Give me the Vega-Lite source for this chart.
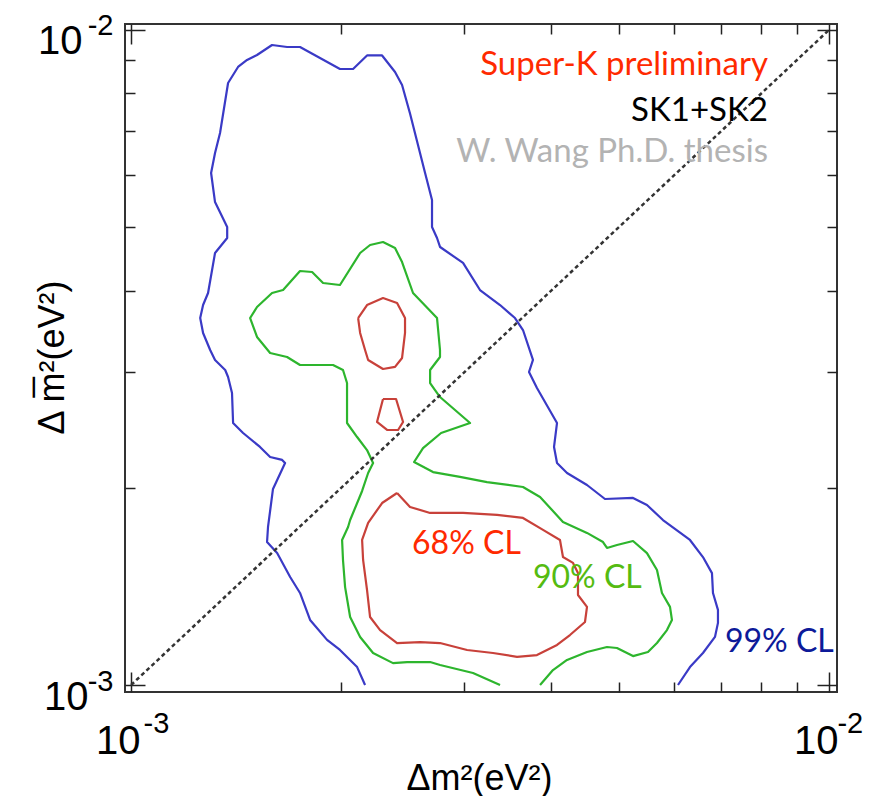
{
  "$schema": "https://vega.github.io/schema/vega-lite/v6.json",
  "width": 712,
  "height": 668,
  "autosize": {"type": "none"},
  "padding": {"left": 125, "top": 24, "right": 34, "bottom": 104},
  "background": "white",
  "config": {
    "view": {"stroke": "#333333", "strokeWidth": 2},
    "axis": {"grid": false, "domain": false, "labelFont": "Liberation Sans", "titleFont": "Liberation Sans", "labelColor": "#000000", "titleColor": "#000000", "labelFlush": false, "labelOverlap": false, "labelBound": false}
  },
  "datasets": {
    "contours": [
      {"c": 99, "p": "a", "i": 1, "x": 0.002164, "y": 0.001000},
      {"c": 99, "p": "a", "i": 2, "x": 0.002108, "y": 0.001065},
      {"c": 99, "p": "a", "i": 3, "x": 0.001992, "y": 0.001131},
      {"c": 99, "p": "a", "i": 4, "x": 0.001909, "y": 0.001172},
      {"c": 99, "p": "a", "i": 5, "x": 0.001805, "y": 0.001257},
      {"c": 99, "p": "a", "i": 6, "x": 0.001746, "y": 0.001382},
      {"c": 99, "p": "a", "i": 7, "x": 0.001690, "y": 0.001462},
      {"c": 99, "p": "a", "i": 8, "x": 0.001619, "y": 0.001590},
      {"c": 99, "p": "a", "i": 9, "x": 0.001566, "y": 0.001653},
      {"c": 99, "p": "a", "i": 10, "x": 0.001571, "y": 0.001743},
      {"c": 99, "p": "a", "i": 11, "x": 0.001597, "y": 0.001992},
      {"c": 99, "p": "a", "i": 12, "x": 0.001662, "y": 0.002182},
      {"c": 99, "p": "a", "i": 13, "x": 0.001646, "y": 0.002206},
      {"c": 99, "p": "a", "i": 14, "x": 0.001582, "y": 0.002229},
      {"c": 99, "p": "a", "i": 15, "x": 0.001530, "y": 0.002309},
      {"c": 99, "p": "a", "i": 16, "x": 0.001447, "y": 0.002425},
      {"c": 99, "p": "a", "i": 17, "x": 0.001400, "y": 0.002512},
      {"c": 99, "p": "a", "i": 18, "x": 0.001395, "y": 0.002791},
      {"c": 99, "p": "a", "i": 19, "x": 0.001377, "y": 0.002953},
      {"c": 99, "p": "a", "i": 20, "x": 0.001364, "y": 0.003026},
      {"c": 99, "p": "a", "i": 21, "x": 0.001319, "y": 0.003135},
      {"c": 99, "p": "a", "i": 22, "x": 0.001298, "y": 0.003247},
      {"c": 99, "p": "a", "i": 23, "x": 0.001268, "y": 0.003447},
      {"c": 99, "p": "a", "i": 24, "x": 0.001256, "y": 0.003633},
      {"c": 99, "p": "a", "i": 25, "x": 0.001268, "y": 0.003803},
      {"c": 99, "p": "a", "i": 26, "x": 0.001289, "y": 0.003967},
      {"c": 99, "p": "a", "i": 27, "x": 0.001319, "y": 0.004566},
      {"c": 99, "p": "a", "i": 28, "x": 0.001373, "y": 0.004813},
      {"c": 99, "p": "a", "i": 29, "x": 0.001373, "y": 0.005003},
      {"c": 99, "p": "a", "i": 30, "x": 0.001319, "y": 0.005462},
      {"c": 99, "p": "a", "i": 31, "x": 0.001302, "y": 0.006049},
      {"c": 99, "p": "a", "i": 32, "x": 0.001319, "y": 0.006489},
      {"c": 99, "p": "a", "i": 33, "x": 0.001341, "y": 0.006962},
      {"c": 99, "p": "a", "i": 34, "x": 0.001377, "y": 0.008300},
      {"c": 99, "p": "a", "i": 35, "x": 0.001423, "y": 0.008781},
      {"c": 99, "p": "a", "i": 36, "x": 0.001466, "y": 0.009000},
      {"c": 99, "p": "a", "i": 37, "x": 0.001515, "y": 0.009159},
      {"c": 99, "p": "a", "i": 38, "x": 0.001592, "y": 0.009486},
      {"c": 99, "p": "a", "i": 39, "x": 0.001673, "y": 0.009420},
      {"c": 99, "p": "a", "i": 40, "x": 0.001746, "y": 0.009420},
      {"c": 99, "p": "a", "i": 41, "x": 0.001865, "y": 0.009063},
      {"c": 99, "p": "a", "i": 42, "x": 0.001992, "y": 0.008719},
      {"c": 99, "p": "a", "i": 43, "x": 0.002080, "y": 0.008719},
      {"c": 99, "p": "a", "i": 44, "x": 0.002178, "y": 0.009144},
      {"c": 99, "p": "a", "i": 45, "x": 0.002289, "y": 0.009144},
      {"c": 99, "p": "a", "i": 46, "x": 0.002389, "y": 0.008627},
      {"c": 99, "p": "a", "i": 47, "x": 0.002445, "y": 0.008242},
      {"c": 99, "p": "a", "i": 48, "x": 0.002510, "y": 0.007458},
      {"c": 99, "p": "a", "i": 49, "x": 0.002638, "y": 0.006049},
      {"c": 99, "p": "a", "i": 50, "x": 0.002699, "y": 0.005501},
      {"c": 99, "p": "a", "i": 51, "x": 0.002699, "y": 0.005003},
      {"c": 99, "p": "a", "i": 52, "x": 0.002744, "y": 0.004813},
      {"c": 99, "p": "a", "i": 53, "x": 0.002772, "y": 0.004663},
      {"c": 99, "p": "a", "i": 54, "x": 0.002990, "y": 0.004409},
      {"c": 99, "p": "a", "i": 55, "x": 0.003162, "y": 0.004009},
      {"c": 99, "p": "a", "i": 56, "x": 0.003378, "y": 0.003803},
      {"c": 99, "p": "a", "i": 57, "x": 0.003549, "y": 0.003633},
      {"c": 99, "p": "a", "i": 58, "x": 0.003644, "y": 0.003483},
      {"c": 99, "p": "a", "i": 59, "x": 0.003766, "y": 0.003135},
      {"c": 99, "p": "a", "i": 60, "x": 0.003717, "y": 0.003005},
      {"c": 99, "p": "a", "i": 61, "x": 0.003816, "y": 0.002841},
      {"c": 99, "p": "a", "i": 62, "x": 0.004077, "y": 0.002512},
      {"c": 99, "p": "a", "i": 63, "x": 0.004037, "y": 0.002309},
      {"c": 99, "p": "a", "i": 64, "x": 0.004077, "y": 0.002182},
      {"c": 99, "p": "a", "i": 65, "x": 0.004214, "y": 0.002107},
      {"c": 99, "p": "a", "i": 66, "x": 0.004501, "y": 0.002020},
      {"c": 99, "p": "a", "i": 67, "x": 0.004776, "y": 0.001923},
      {"c": 99, "p": "a", "i": 68, "x": 0.005239, "y": 0.001930},
      {"c": 99, "p": "a", "i": 69, "x": 0.005486, "y": 0.001883},
      {"c": 99, "p": "a", "i": 70, "x": 0.005783, "y": 0.001786},
      {"c": 99, "p": "a", "i": 71, "x": 0.006322, "y": 0.001665},
      {"c": 99, "p": "a", "i": 72, "x": 0.006599, "y": 0.001568},
      {"c": 99, "p": "a", "i": 73, "x": 0.006798, "y": 0.001482},
      {"c": 99, "p": "a", "i": 74, "x": 0.006821, "y": 0.001382},
      {"c": 99, "p": "a", "i": 75, "x": 0.006934, "y": 0.001302},
      {"c": 99, "p": "a", "i": 76, "x": 0.006934, "y": 0.001244},
      {"c": 99, "p": "a", "i": 77, "x": 0.006866, "y": 0.001184},
      {"c": 99, "p": "a", "i": 78, "x": 0.006599, "y": 0.001119},
      {"c": 99, "p": "a", "i": 79, "x": 0.006322, "y": 0.001065},
      {"c": 99, "p": "a", "i": 80, "x": 0.006077, "y": 0.001000},

      {"c": 90, "p": "a", "i": 1, "x": 0.003378, "y": 0.001000},
      {"c": 90, "p": "a", "i": 2, "x": 0.003090, "y": 0.001043},
      {"c": 90, "p": "a", "i": 3, "x": 0.002772, "y": 0.001073},
      {"c": 90, "p": "a", "i": 4, "x": 0.002682, "y": 0.001084},
      {"c": 90, "p": "a", "i": 5, "x": 0.002486, "y": 0.001084},
      {"c": 90, "p": "a", "i": 6, "x": 0.002373, "y": 0.001080},
      {"c": 90, "p": "a", "i": 7, "x": 0.002222, "y": 0.001119},
      {"c": 90, "p": "a", "i": 8, "x": 0.002129, "y": 0.001184},
      {"c": 90, "p": "a", "i": 9, "x": 0.002060, "y": 0.001270},
      {"c": 90, "p": "a", "i": 10, "x": 0.002026, "y": 0.001411},
      {"c": 90, "p": "a", "i": 11, "x": 0.002012, "y": 0.001552},
      {"c": 90, "p": "a", "i": 12, "x": 0.002006, "y": 0.001665},
      {"c": 90, "p": "a", "i": 13, "x": 0.002046, "y": 0.001743},
      {"c": 90, "p": "a", "i": 14, "x": 0.002060, "y": 0.001786},
      {"c": 90, "p": "a", "i": 15, "x": 0.002143, "y": 0.001978},
      {"c": 90, "p": "a", "i": 16, "x": 0.002186, "y": 0.002107},
      {"c": 90, "p": "a", "i": 17, "x": 0.002222, "y": 0.002182},
      {"c": 90, "p": "a", "i": 18, "x": 0.002178, "y": 0.002284},
      {"c": 90, "p": "a", "i": 19, "x": 0.002108, "y": 0.002391},
      {"c": 90, "p": "a", "i": 20, "x": 0.002039, "y": 0.002512},
      {"c": 90, "p": "a", "i": 21, "x": 0.002039, "y": 0.002891},
      {"c": 90, "p": "a", "i": 22, "x": 0.002012, "y": 0.003026},
      {"c": 90, "p": "a", "i": 23, "x": 0.001947, "y": 0.003080},
      {"c": 90, "p": "a", "i": 24, "x": 0.001746, "y": 0.003080},
      {"c": 90, "p": "a", "i": 25, "x": 0.001673, "y": 0.003168},
      {"c": 90, "p": "a", "i": 26, "x": 0.001582, "y": 0.003213},
      {"c": 90, "p": "a", "i": 27, "x": 0.001515, "y": 0.003399},
      {"c": 90, "p": "a", "i": 28, "x": 0.001481, "y": 0.003633},
      {"c": 90, "p": "a", "i": 29, "x": 0.001515, "y": 0.003777},
      {"c": 90, "p": "a", "i": 30, "x": 0.001592, "y": 0.003967},
      {"c": 90, "p": "a", "i": 31, "x": 0.001651, "y": 0.004009},
      {"c": 90, "p": "a", "i": 32, "x": 0.001746, "y": 0.004286},
      {"c": 90, "p": "a", "i": 33, "x": 0.001817, "y": 0.004271},
      {"c": 90, "p": "a", "i": 34, "x": 0.001884, "y": 0.004109},
      {"c": 90, "p": "a", "i": 35, "x": 0.001992, "y": 0.004080},
      {"c": 90, "p": "a", "i": 36, "x": 0.002129, "y": 0.004566},
      {"c": 90, "p": "a", "i": 37, "x": 0.002200, "y": 0.004696},
      {"c": 90, "p": "a", "i": 38, "x": 0.002296, "y": 0.004746},
      {"c": 90, "p": "a", "i": 39, "x": 0.002389, "y": 0.004647},
      {"c": 90, "p": "a", "i": 40, "x": 0.002445, "y": 0.004423},
      {"c": 90, "p": "a", "i": 41, "x": 0.002535, "y": 0.003967},
      {"c": 90, "p": "a", "i": 42, "x": 0.002744, "y": 0.003633},
      {"c": 90, "p": "a", "i": 43, "x": 0.002771, "y": 0.003247},
      {"c": 90, "p": "a", "i": 44, "x": 0.002771, "y": 0.003168},
      {"c": 90, "p": "a", "i": 45, "x": 0.002682, "y": 0.003026},
      {"c": 90, "p": "a", "i": 46, "x": 0.002682, "y": 0.002891},
      {"c": 90, "p": "a", "i": 47, "x": 0.002771, "y": 0.002752},
      {"c": 90, "p": "a", "i": 48, "x": 0.003060, "y": 0.002512},
      {"c": 90, "p": "a", "i": 49, "x": 0.002781, "y": 0.002425},
      {"c": 90, "p": "a", "i": 50, "x": 0.002620, "y": 0.002300},
      {"c": 90, "p": "a", "i": 51, "x": 0.002544, "y": 0.002190},
      {"c": 90, "p": "a", "i": 52, "x": 0.002708, "y": 0.002114},
      {"c": 90, "p": "a", "i": 53, "x": 0.002960, "y": 0.002078},
      {"c": 90, "p": "a", "i": 54, "x": 0.003236, "y": 0.002041},
      {"c": 90, "p": "a", "i": 55, "x": 0.003644, "y": 0.002006},
      {"c": 90, "p": "a", "i": 56, "x": 0.003855, "y": 0.001937},
      {"c": 90, "p": "a", "i": 57, "x": 0.004158, "y": 0.001774},
      {"c": 90, "p": "a", "i": 58, "x": 0.004501, "y": 0.001707},
      {"c": 90, "p": "a", "i": 59, "x": 0.004745, "y": 0.001653},
      {"c": 90, "p": "a", "i": 60, "x": 0.004808, "y": 0.001619},
      {"c": 90, "p": "a", "i": 61, "x": 0.004969, "y": 0.001636},
      {"c": 90, "p": "a", "i": 62, "x": 0.005239, "y": 0.001659},
      {"c": 90, "p": "a", "i": 63, "x": 0.005486, "y": 0.001590},
      {"c": 90, "p": "a", "i": 64, "x": 0.005670, "y": 0.001498},
      {"c": 90, "p": "a", "i": 65, "x": 0.005764, "y": 0.001382},
      {"c": 90, "p": "a", "i": 66, "x": 0.005919, "y": 0.001316},
      {"c": 90, "p": "a", "i": 67, "x": 0.005957, "y": 0.001257},
      {"c": 90, "p": "a", "i": 68, "x": 0.005860, "y": 0.001213},
      {"c": 90, "p": "a", "i": 69, "x": 0.005670, "y": 0.001159},
      {"c": 90, "p": "a", "i": 70, "x": 0.005504, "y": 0.001123},
      {"c": 90, "p": "a", "i": 71, "x": 0.005239, "y": 0.001107},
      {"c": 90, "p": "a", "i": 72, "x": 0.004969, "y": 0.001139},
      {"c": 90, "p": "a", "i": 73, "x": 0.004808, "y": 0.001143},
      {"c": 90, "p": "a", "i": 74, "x": 0.004501, "y": 0.001123},
      {"c": 90, "p": "a", "i": 75, "x": 0.004214, "y": 0.001092},
      {"c": 90, "p": "a", "i": 76, "x": 0.004023, "y": 0.001054},
      {"c": 90, "p": "a", "i": 77, "x": 0.003855, "y": 0.001000},

      {"c": 68, "p": "a", "i": 1, "x": 0.002115, "y": 0.003633},
      {"c": 68, "p": "a", "i": 2, "x": 0.002178, "y": 0.003803},
      {"c": 68, "p": "a", "i": 3, "x": 0.002296, "y": 0.003898},
      {"c": 68, "p": "a", "i": 4, "x": 0.002405, "y": 0.003830},
      {"c": 68, "p": "a", "i": 5, "x": 0.002469, "y": 0.003633},
      {"c": 68, "p": "a", "i": 6, "x": 0.002469, "y": 0.003447},
      {"c": 68, "p": "a", "i": 7, "x": 0.002445, "y": 0.003157},
      {"c": 68, "p": "a", "i": 8, "x": 0.002389, "y": 0.003059},
      {"c": 68, "p": "a", "i": 9, "x": 0.002296, "y": 0.003037},
      {"c": 68, "p": "a", "i": 10, "x": 0.002186, "y": 0.003135},
      {"c": 68, "p": "a", "i": 11, "x": 0.002164, "y": 0.003247},
      {"c": 68, "p": "a", "i": 12, "x": 0.002129, "y": 0.003447},
      {"c": 68, "p": "a", "i": 13, "x": 0.002115, "y": 0.003633},

      {"c": 68, "p": "b", "i": 1, "x": 0.002296, "y": 0.002733},
      {"c": 68, "p": "b", "i": 2, "x": 0.002397, "y": 0.002733},
      {"c": 68, "p": "b", "i": 3, "x": 0.002453, "y": 0.002521},
      {"c": 68, "p": "b", "i": 4, "x": 0.002413, "y": 0.002451},
      {"c": 68, "p": "b", "i": 5, "x": 0.002327, "y": 0.002451},
      {"c": 68, "p": "b", "i": 6, "x": 0.002251, "y": 0.002521},
      {"c": 68, "p": "b", "i": 7, "x": 0.002296, "y": 0.002733},

      {"c": 68, "p": "c", "i": 1, "x": 0.002405, "y": 0.001964},
      {"c": 68, "p": "c", "i": 2, "x": 0.002510, "y": 0.001870},
      {"c": 68, "p": "c", "i": 3, "x": 0.002682, "y": 0.001831},
      {"c": 68, "p": "c", "i": 4, "x": 0.002990, "y": 0.001831},
      {"c": 68, "p": "c", "i": 5, "x": 0.003345, "y": 0.001818},
      {"c": 68, "p": "c", "i": 6, "x": 0.003644, "y": 0.001799},
      {"c": 68, "p": "c", "i": 7, "x": 0.003893, "y": 0.001725},
      {"c": 68, "p": "c", "i": 8, "x": 0.004117, "y": 0.001665},
      {"c": 68, "p": "c", "i": 9, "x": 0.004158, "y": 0.001568},
      {"c": 68, "p": "c", "i": 10, "x": 0.004298, "y": 0.001536},
      {"c": 68, "p": "c", "i": 11, "x": 0.004369, "y": 0.001482},
      {"c": 68, "p": "c", "i": 12, "x": 0.004369, "y": 0.001372},
      {"c": 68, "p": "c", "i": 13, "x": 0.004501, "y": 0.001316},
      {"c": 68, "p": "c", "i": 14, "x": 0.004471, "y": 0.001248},
      {"c": 68, "p": "c", "i": 15, "x": 0.004255, "y": 0.001192},
      {"c": 68, "p": "c", "i": 16, "x": 0.004077, "y": 0.001151},
      {"c": 68, "p": "c", "i": 17, "x": 0.003816, "y": 0.001111},
      {"c": 68, "p": "c", "i": 18, "x": 0.003573, "y": 0.001104},
      {"c": 68, "p": "c", "i": 19, "x": 0.003301, "y": 0.001119},
      {"c": 68, "p": "c", "i": 20, "x": 0.003030, "y": 0.001131},
      {"c": 68, "p": "c", "i": 21, "x": 0.002771, "y": 0.001159},
      {"c": 68, "p": "c", "i": 22, "x": 0.002595, "y": 0.001163},
      {"c": 68, "p": "c", "i": 23, "x": 0.002405, "y": 0.001159},
      {"c": 68, "p": "c", "i": 24, "x": 0.002274, "y": 0.001213},
      {"c": 68, "p": "c", "i": 25, "x": 0.002200, "y": 0.001270},
      {"c": 68, "p": "c", "i": 26, "x": 0.002178, "y": 0.001397},
      {"c": 68, "p": "c", "i": 27, "x": 0.002150, "y": 0.001552},
      {"c": 68, "p": "c", "i": 28, "x": 0.002143, "y": 0.001665},
      {"c": 68, "p": "c", "i": 29, "x": 0.002186, "y": 0.001768},
      {"c": 68, "p": "c", "i": 30, "x": 0.002289, "y": 0.001896},
      {"c": 68, "p": "c", "i": 31, "x": 0.002405, "y": 0.001964}
    ],
    "diagonal": [
      {"x": 0.001, "y": 0.001},
      {"x": 0.01, "y": 0.01}
    ],
    "notes": [
      {"label": "Super-K preliminary", "side": "right", "x": 0.008177, "y": 0.008537},
      {"label": "SK1+SK2", "side": "right", "x": 0.008177, "y": 0.007261},
      {"label": "W. Wang Ph.D. thesis", "side": "right", "x": 0.008177, "y": 0.006286},
      {"label": "68% CL", "side": "left", "x": 0.002527, "y": 0.001585},
      {"label": "90% CL", "side": "left", "x": 0.003766, "y": 0.001406},
      {"label": "99% CL", "side": "left", "x": 0.007096, "y": 0.001123}
    ]
  },
  "layer": [
    {
      "data": {"name": "contours"},
      "transform": [{"filter": "datum.c == 99"}],
      "mark": {"type": "line", "color": "#3a3ac6", "strokeWidth": 2.2, "strokeJoin": "round"},
      "encoding": {
        "x": {"field": "x", "type": "quantitative",
          "scale": {"type": "log", "domain": [0.00098, 0.01027], "nice": false},
          "axis": {"orient": "bottom", "values": [0.001, 0.002, 0.003, 0.004, 0.005, 0.006, 0.007, 0.008, 0.009, 0.01],
            "labels": false, "title": null, "tickColor": "#222222", "tickWidth": 1.5,
            "tickSize": {"condition": {"test": "datum.value < 0.00105 || datum.value > 0.0095", "value": -20}, "value": -10}}},
        "y": {"field": "y", "type": "quantitative",
          "scale": {"type": "log", "domain": [0.0009757, 0.010213], "nice": false},
          "axis": {"orient": "left", "values": [0.001, 0.002, 0.003, 0.004, 0.005, 0.006, 0.007, 0.008, 0.009, 0.01],
            "labels": false, "title": null, "tickColor": "#222222", "tickWidth": 1.5,
            "tickSize": {"condition": {"test": "datum.value < 0.00105 || datum.value > 0.0095", "value": -20}, "value": -10}}},
        "order": {"field": "i", "type": "quantitative"}
      }
    },
    {
      "data": {"name": "contours"},
      "transform": [{"filter": "datum.c == 90"}],
      "mark": {"type": "line", "color": "#2db52d", "strokeWidth": 2.2, "strokeJoin": "round"},
      "encoding": {
        "x": {"field": "x", "type": "quantitative",
          "scale": {"type": "log", "domain": [0.00098, 0.01027], "nice": false},
          "axis": {"orient": "top", "values": [0.001, 0.002, 0.003, 0.004, 0.005, 0.006, 0.007, 0.008, 0.009, 0.01],
            "labels": false, "title": null, "tickColor": "#222222", "tickWidth": 1.5,
            "tickSize": {"condition": {"test": "datum.value < 0.00105 || datum.value > 0.0095", "value": -20}, "value": -10}}},
        "y": {"field": "y", "type": "quantitative",
          "scale": {"type": "log", "domain": [0.0009757, 0.010213], "nice": false},
          "axis": {"orient": "right", "values": [0.001, 0.002, 0.003, 0.004, 0.005, 0.006, 0.007, 0.008, 0.009, 0.01],
            "labels": false, "title": null, "tickColor": "#222222", "tickWidth": 1.5,
            "tickSize": {"condition": {"test": "datum.value < 0.00105 || datum.value > 0.0095", "value": -20}, "value": -10}}},
        "order": {"field": "i", "type": "quantitative"}
      }
    },
    {
      "data": {"name": "contours"},
      "transform": [{"filter": "datum.c == 68"}],
      "mark": {"type": "line", "color": "#c8413a", "strokeWidth": 2.2, "strokeJoin": "round"},
      "encoding": {
        "x": {"field": "x", "type": "quantitative",
          "scale": {"type": "log", "domain": [0.00098, 0.01027], "nice": false},
          "axis": {"orient": "bottom", "values": [0.001, 0.01], "ticks": false,
            "labelExpr": "'10'", "labelFontSize": 40, "labelAlign": "right", "labelBaseline": "alphabetic",
            "labelOffset": 9, "labelPadding": 61,
            "title": "Δm²(eV²)", "titleFontSize": 36, "titleFontWeight": "normal",
            "titleX": 354, "titleY": 97, "titleAlign": "center", "titleBaseline": "alphabetic"}},
        "y": {"field": "y", "type": "quantitative",
          "scale": {"type": "log", "domain": [0.0009757, 0.010213], "nice": false},
          "axis": {"orient": "left", "values": [0.001, 0.01], "ticks": false,
            "labelExpr": "'10'", "labelFontSize": 40, "labelAlign": "right", "labelBaseline": "alphabetic",
            "labelOffset": 24,
            "labelPadding": {"condition": {"test": "datum.value < 0.002", "value": 37}, "value": 43},
            "title": "Δ m̅²(eV²)", "titleFontSize": 36, "titleFontWeight": "normal",
            "titleX": -62, "titleY": 333, "titleAngle": 270, "titleAlign": "center", "titleBaseline": "alphabetic"}},
        "detail": {"field": "p", "type": "nominal"},
        "order": {"field": "i", "type": "quantitative"}
      }
    },
    {
      "data": {"name": "diagonal"},
      "mark": {"type": "line", "color": "#333333", "strokeWidth": 2.5, "strokeDash": [4, 3]},
      "encoding": {
        "x": {"field": "x", "type": "quantitative",
          "scale": {"type": "log", "domain": [0.00098, 0.01027], "nice": false},
          "axis": {"orient": "bottom", "values": [0.001, 0.01], "ticks": false,
            "labelExpr": "datum.value < 0.002 ? '-3' : '-2'", "labelFontSize": 29,
            "labelAlign": "left", "labelBaseline": "alphabetic",
            "labelOffset": {"condition": {"test": "datum.value < 0.002", "value": 12}, "value": 8},
            "labelPadding": 40, "title": null}},
        "y": {"field": "y", "type": "quantitative",
          "scale": {"type": "log", "domain": [0.0009757, 0.010213], "nice": false},
          "axis": {"orient": "left", "values": [0.001, 0.01], "ticks": false,
            "labelExpr": "datum.value < 0.002 ? '-3' : '-2'", "labelFontSize": 29,
            "labelAlign": "right", "labelBaseline": "alphabetic",
            "labelOffset": 5, "labelPadding": 12, "title": null}}
      }
    },
    {
      "data": {"name": "notes"},
      "transform": [{"filter": "datum.side == 'right'"}],
      "mark": {"type": "text", "align": "right", "baseline": "alphabetic", "font": "Lato", "fontSize": 33},
      "encoding": {
        "x": {"field": "x", "type": "quantitative", "scale": {"type": "log", "domain": [0.00098, 0.01027], "nice": false}, "axis": null},
        "y": {"field": "y", "type": "quantitative", "scale": {"type": "log", "domain": [0.0009757, 0.010213], "nice": false}, "axis": null},
        "text": {"field": "label"},
        "color": {"field": "label", "type": "nominal", "legend": null,
          "scale": {"domain": ["Super-K preliminary", "SK1+SK2", "W. Wang Ph.D. thesis", "68% CL", "90% CL", "99% CL"],
            "range": ["#ff2a00", "#000000", "#b3b3b3", "#ff2a00", "#55bb11", "#0d1a99"]}}
      }
    },
    {
      "data": {"name": "notes"},
      "transform": [{"filter": "datum.side == 'left'"}],
      "mark": {"type": "text", "align": "left", "baseline": "alphabetic", "font": "Lato", "fontSize": 32},
      "encoding": {
        "x": {"field": "x", "type": "quantitative", "scale": {"type": "log", "domain": [0.00098, 0.01027], "nice": false}, "axis": null},
        "y": {"field": "y", "type": "quantitative", "scale": {"type": "log", "domain": [0.0009757, 0.010213], "nice": false}, "axis": null},
        "text": {"field": "label"},
        "color": {"field": "label", "type": "nominal", "legend": null,
          "scale": {"domain": ["Super-K preliminary", "SK1+SK2", "W. Wang Ph.D. thesis", "68% CL", "90% CL", "99% CL"],
            "range": ["#ff2a00", "#000000", "#b3b3b3", "#ff2a00", "#55bb11", "#0d1a99"]}}
      }
    }
  ],
  "resolve": {"axis": {"x": "independent", "y": "independent"}}
}
